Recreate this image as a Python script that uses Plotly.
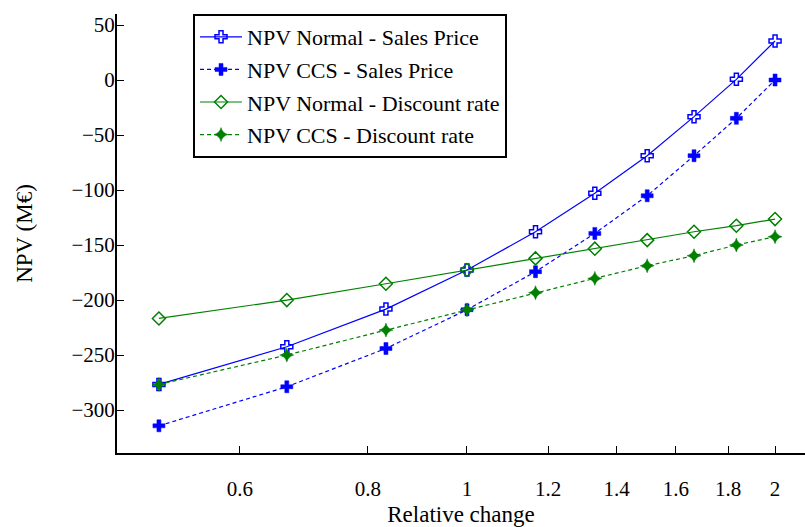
import plotly.graph_objects as go

relative_change = [0.5, 0.6667, 0.8333, 1.0, 1.1667, 1.3333, 1.5, 1.6667, 1.8333, 2.0]

npv_normal_sales = [-276.7, -242.4, -208.2, -172.7, -137.9, -103.0, -68.8, -33.3, 0.6, 35.5]
npv_ccs_sales = [-314.3, -278.8, -244.0, -208.8, -174.2, -139.4, -105.2, -68.8, -34.8, 0.0]
npv_normal_discount = [-216.7, -200.0, -185.2, -172.7, -162.1, -153.3, -145.5, -137.9, -132.4, -126.4]
npv_ccs_discount = [-276.7, -250.0, -227.3, -208.8, -193.3, -180.3, -168.8, -159.7, -150.0, -142.4]

x_tickvals = [0.6, 0.8, 1.0, 1.2, 1.4, 1.6, 1.8, 2.0]
x_ticktext = ["0.6", "0.8", "1", "1.2", "1.4", "1.6", "1.8", "2"]
y_tickvals = [-300, -250, -200, -150, -100, -50, 0, 50]
y_ticktext = ["\u2212300", "\u2212250", "\u2212200", "\u2212150", "\u2212100", "\u221250", "0", "50"]

BLUE = "#0000ff"
GREEN = "#008000"
FONT = "'Liberation Serif', 'DejaVu Serif', serif"

series = [
    ("NPV Normal - Sales Price", npv_normal_sales, BLUE, "solid", "cross-open", BLUE),
    ("NPV CCS - Sales Price", npv_ccs_sales, BLUE, "4px,3px", "cross", BLUE),
    ("NPV Normal - Discount rate", npv_normal_discount, GREEN, "solid", "diamond-open", GREEN),
    ("NPV CCS - Discount rate", npv_ccs_discount, GREEN, "4px,3px", "star-diamond", GREEN),
]

fig = go.Figure()
for i, (name, vals, col, dash, sym, mcol) in enumerate(series):
    fig.add_trace(go.Scatter(
        x=relative_change, y=vals, name=name, mode="lines+markers",
        legendgroup=f"g{i}",
        line=dict(color=col, width=1.2, dash=dash),
        marker=dict(symbol=sym, size=10, color=mcol,
                    line=dict(color=mcol, width=1.5 if "open" in sym else 0.5)),
    ))

fig.update_layout(
    width=805, height=527,
    margin=dict(l=117, r=0, t=14, b=74),
    paper_bgcolor="white", plot_bgcolor="white",
    font=dict(family=FONT, size=21, color="black"),
    showlegend=True,
    legend=dict(
        x=0.1105, y=1.0, xanchor="left", yanchor="top",
        bordercolor="black", borderwidth=2, bgcolor="white",
        font=dict(family=FONT, size=22, color="black"),
        tracegroupgap=1, itemwidth=42,
    ),
)

fig.update_xaxes(
    type="log", range=[-0.3420, 0.3303], automargin=False,
    tickvals=x_tickvals, ticktext=x_ticktext,
    tickfont=dict(family=FONT, size=21),
    ticks="inside", ticklen=7, tickwidth=1, tickcolor="black",
    showline=True, linewidth=2, linecolor="black", mirror=False,
    showgrid=False, zeroline=False,
    ticklabelstandoff=16,
    title=dict(text="Relative change", font=dict(family=FONT, size=23), standoff=6),
)
fig.update_yaxes(
    range=[-339, 60], automargin=False,
    tickvals=y_tickvals, ticktext=y_ticktext,
    tickfont=dict(family=FONT, size=21),
    ticks="inside", ticklen=7, tickwidth=1, tickcolor="black",
    showline=True, linewidth=2, linecolor="black", mirror=False,
    showgrid=False, zeroline=False,
    ticklabelstandoff=-4,
    title=dict(text="NPV (M\u20ac)", font=dict(family=FONT, size=23), standoff=32),
)

fig.write_html("out.html")
